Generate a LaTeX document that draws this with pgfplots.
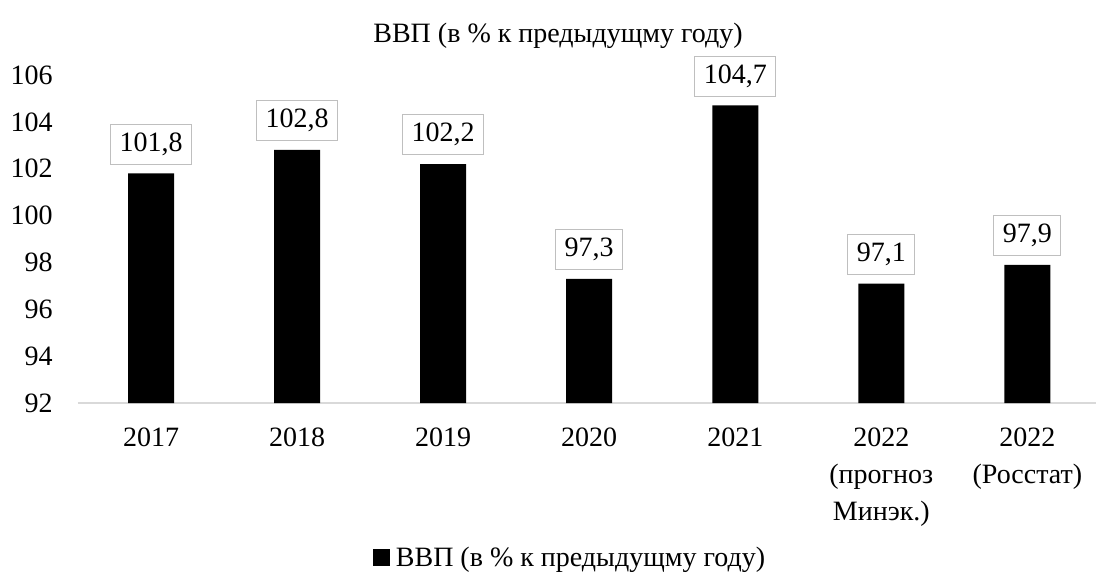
\documentclass[border=0pt]{standalone}
\usepackage{pgfplots}
\pgfplotsset{compat=1.18}
\usepackage{fontspec}
\setmainfont{Liberation Serif}
\newcommand{\fs}{\fontsize{14}{18.5}\selectfont}
\begin{document}
\begin{tikzpicture}
\path[use as bounding box] (0,0) rectangle (548pt,287pt);
\begin{axis}[
  at={(39pt,85.5pt)}, anchor=south west,
  scale only axis, width=509pt, height=164pt,
  xmin=-0.5, xmax=6.47, ymin=92, ymax=106,
  ytick={92,94,...,106},
  xtick={0,...,6},
  xticklabels={2017,2018,2019,2020,2021,{2022\\(прогноз\\Минэк.)},{2022\\(Росстат)}},
  axis x line*=bottom, axis y line*=left,
  x axis line style={draw=black!15, line width=0.8pt},
  y axis line style={draw=none},
  major tick length=0pt,
  /pgf/number format/assume math mode=true,
  tick label style={font=\fs},
  yticklabel style={anchor=east, inner sep=0pt, xshift=-12.5pt},
  xticklabel style={anchor=north, inner sep=0pt, yshift=-12pt, align=center},
  clip=false,
  ybar, bar width=23pt,
  nodes near coords,
  nodes near coords style={font=\fs, draw=black!25, fill=white, inner xsep=4.5pt, inner ysep=3.5pt, text height=10pt, text depth=3pt, anchor=south, yshift=4.5pt,
    /pgf/number format/.cd, use comma, fixed, fixed zerofill, precision=1, assume math mode=true},
  legend style={draw=none, at={(0.4843,-0.4726)}, anchor=center, font=\fs, legend columns=1},
  legend image code/.code={\fill[black] (0pt,-4pt) rectangle (8.5pt,4.5pt);},
]
\addplot[fill=black, draw=none] coordinates {(0,101.8) (1,102.8) (2,102.2) (3,97.3) (4,104.7) (5,97.1) (6,97.9)};
\addlegendentry{\hspace{1pt}ВВП (в \% к предыдущму году)}
\end{axis}
\node[font=\fs] at (279pt,269pt) {ВВП (в \% к предыдущму году)};
\end{tikzpicture}
\end{document}
